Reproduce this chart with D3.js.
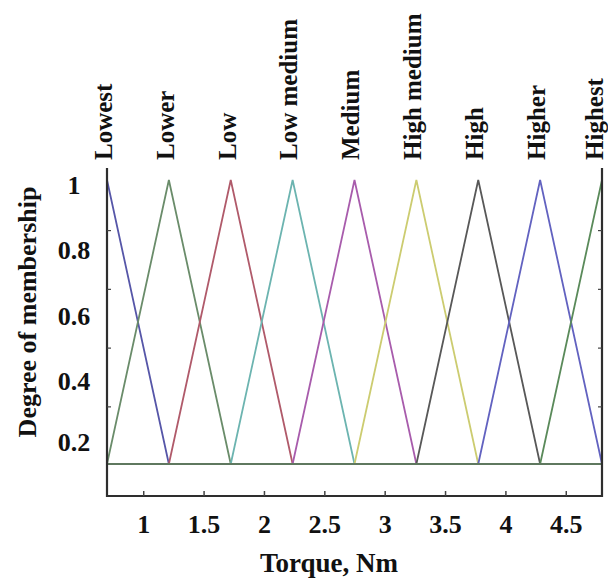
<!DOCTYPE html>
<html>
<head>
<meta charset="utf-8">
<script src="https://cdn.jsdelivr.net/npm/d3@7"></script>
<style>
  body { margin: 0; background: #fff; }
  text { font-family: "Liberation Serif", "Times New Roman", serif; font-weight: bold; fill: #111; }
</style>
</head>
<body>
<svg id="chart" width="608" height="581"></svg>
<script>
// membership function names and peak positions (Torque, Nm)
var mfNames = ["Lowest", "Lower", "Low", "Low medium", "Medium", "High medium", "High", "Higher", "Highest"];
var mfPeaks = [0.7, 1.2125, 1.725, 2.2375, 2.75, 3.2625, 3.775, 4.2875, 4.8];
var mfColors = ["#5656a8", "#6a8c6a", "#b05a6a", "#6cb4b0", "#a85cac", "#cccc70", "#585858", "#6262c0", "#5a8a5a"];
var mfBottom = 0.13;   // lowest value of every triangle
var mfTop = 1;

var xTicks = [1, 1.5, 2, 2.5, 3, 3.5, 4, 4.5];
var yTickLabels = [0.2, 0.4, 0.6, 0.8, 1];
var yInnerTicks = [0.305, 0.485, 0.665, 0.845];

var svg = d3.select("#chart");

var xScale = d3.scaleLinear().domain([0.7, 4.8]).range([107, 602]);
var yScale = d3.scaleLinear().domain([mfBottom, mfTop]).range([464, 180]);
var yAxisMin = 0.032, yAxisMax = 1.037;

var x0 = xScale.range()[0], x1 = xScale.range()[1];
var yBot = yScale(yAxisMin), yTopAxis = yScale(yAxisMax);

svg.append("clipPath").attr("id", "plotClip")
    .append("rect")
    .attr("x", x0).attr("y", 160)
    .attr("width", x1 - x0).attr("height", yBot - 160);

var step = mfPeaks[1] - mfPeaks[0];

var line = d3.line()
    .x(d => xScale(d[0]))
    .y(d => yScale(d[1]));

var g = svg.append("g").attr("clip-path", "url(#plotClip)");

// triangles
g.selectAll(".mf")
    .data(mfPeaks)
    .enter()
    .append("path")
    .attr("class", "mf")
    .attr("fill", "none")
    .attr("stroke", (d, i) => mfColors[i])
    .attr("stroke-width", 1.8)
    .attr("stroke-linejoin", "miter")
    .attr("d", d => line([[d - step, mfBottom], [d, mfTop], [d + step, mfBottom]]));

// horizontal base line
g.append("line")
    .attr("x1", x0).attr("x2", x1)
    .attr("y1", yScale(mfBottom)).attr("y2", yScale(mfBottom))
    .attr("stroke", "#5f785f")
    .attr("stroke-width", 2);

// axis frame (left, bottom, right)
svg.append("path")
    .attr("fill", "none")
    .attr("stroke", "#2e2e2e")
    .attr("stroke-width", 2.2)
    .attr("d", "M" + x0 + "," + yTopAxis + "V" + yBot + "H" + x1 + "V" + yTopAxis);

// inner ticks on the sides
yInnerTicks.forEach(function(v) {
    svg.append("line").attr("x1", x0).attr("x2", x0 + 4)
        .attr("y1", yScale(v)).attr("y2", yScale(v))
        .attr("stroke", "#444").attr("stroke-width", 1.2);
    svg.append("line").attr("x1", x1 - 4).attr("x2", x1)
        .attr("y1", yScale(v)).attr("y2", yScale(v))
        .attr("stroke", "#444").attr("stroke-width", 1.2);
});

// x axis ticks and labels
var xAxis = svg.append("g")
    .attr("transform", "translate(0," + yBot + ")")
    .call(d3.axisBottom(xScale).tickValues(xTicks).tickSizeInner(-5).tickSizeOuter(0).tickPadding(19).tickFormat(d3.format("")));
xAxis.select(".domain").remove();
xAxis.selectAll(".tick line").attr("stroke", "#444").attr("stroke-width", 1.5);
xAxis.selectAll(".tick text")
    .attr("fill", "#111")
    .style("font-family", "'Liberation Serif', serif")
    .style("font-weight", "bold")
    .style("font-size", "26px");

// y tick labels
svg.selectAll(".ylab")
    .data(yTickLabels)
    .enter()
    .append("text")
    .attr("class", "ylab")
    .attr("x", 74)
    .attr("y", d => yScale(d) + (d === 0.2 ? 1 : 5))
    .attr("dy", "0.35em")
    .attr("text-anchor", "middle")
    .style("font-size", "26px")
    .text(d => d);

// membership function names on top
svg.selectAll(".mfName")
    .data(mfNames)
    .enter()
    .append("text")
    .attr("class", "mfName")
    .attr("transform", (d, i) => {
        var cx = Math.min(xScale(mfPeaks[i]) - 4, 594);
        return "translate(" + cx + ",160) rotate(-90)";
    })
    .attr("dy", "0.35em")
    .style("font-size", "25px")
    .text(d => d);

// axis titles
svg.append("text")
    .attr("x", 329).attr("y", 572)
    .attr("text-anchor", "middle")
    .style("font-size", "27px")
    .text("Torque, Nm");

svg.append("text")
    .attr("transform", "translate(27,312) rotate(-90)")
    .attr("dy", "0.35em")
    .attr("text-anchor", "middle")
    .style("font-size", "26px")
    .text("Degree of membership");
</script>
</body>
</html>
